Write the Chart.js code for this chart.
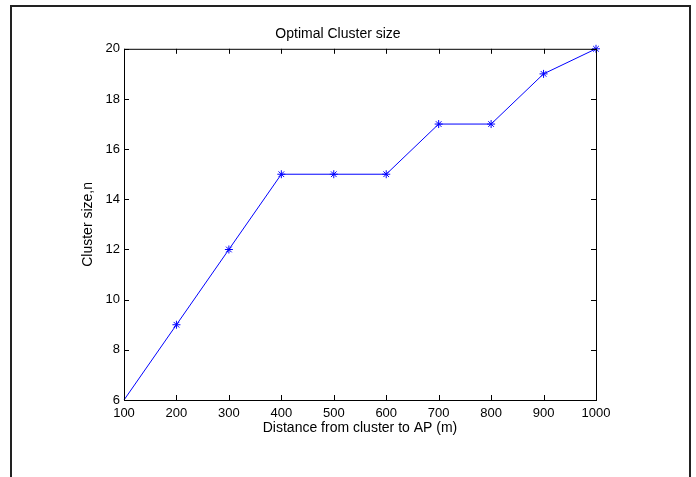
<!DOCTYPE html>
<html>
<head>
<meta charset="utf-8">
<script src="https://cdn.jsdelivr.net/npm/chart.js@4.4.0/dist/chart.umd.min.js"></script>
<style>
  html, body { margin: 0; padding: 0; background: #fff; }
  #wrap { position: relative; width: 696px; height: 477px; overflow: hidden; }
  #frame {
    position: absolute; left: 10px; top: 5px; width: 677px; height: 480px;
    border: 2px solid #222; border-bottom: none;
  }
  canvas { position: absolute; left: 0; top: 0; }
</style>
</head>
<body>
<div id="wrap">
  <div id="frame"></div>
  <canvas id="chart" width="696" height="477"></canvas>
</div>
<script>
// data
const distances = [100, 200, 300, 400, 500, 600, 700, 800, 900, 1000];
const clusterSize = [6, 9, 12, 15, 15, 15, 17, 17, 19, 20];
const xTicks = [100, 200, 300, 400, 500, 600, 700, 800, 900, 1000];
const yTicks = [6, 8, 10, 12, 14, 16, 18, 20];

const FONT = 'Liberation Sans, Arial, Helvetica, sans-serif';

// matlab style box with ticks pointing inward
const boxPlugin = {
  id: 'box',
  afterDraw(chart) {
    const { ctx, chartArea: a, scales } = chart;
    const len = 5;
    ctx.save();
    ctx.strokeStyle = '#000';
    ctx.lineWidth = 1;
    ctx.strokeRect(a.left + 0.5, a.top + 0.5, a.right - a.left, a.bottom - a.top);
    ctx.beginPath();
    xTicks.forEach(v => {
      const x = Math.round(scales.x.getPixelForValue(v)) + 0.5;
      ctx.moveTo(x, a.bottom); ctx.lineTo(x, a.bottom - len);
      ctx.moveTo(x, a.top); ctx.lineTo(x, a.top + len);
    });
    yTicks.forEach(v => {
      const y = Math.round(scales.y.getPixelForValue(v)) + 0.5;
      ctx.moveTo(a.left, y); ctx.lineTo(a.left + len, y);
      ctx.moveTo(a.right, y); ctx.lineTo(a.right - len, y);
    });
    ctx.stroke();
    ctx.restore();
  }
};

new Chart(document.getElementById('chart'), {
  type: 'line',
  data: {
    labels: distances,
    datasets: [{
      data: distances.map((d, i) => ({ x: d, y: clusterSize[i] })),
      borderColor: '#0000ff',
      backgroundColor: '#0000ff',
      borderWidth: 1,
      pointStyle: 'star',
      pointRadius: distances.map((d, i) => i === 0 ? 0 : 4),
      pointBorderColor: '#0000ff',
      pointBorderWidth: 1,
      tension: 0,
      fill: false,
      clip: false
    }]
  },
  options: {
    responsive: false,
    animation: false,
    layout: { padding: { left: 80, right: 100, top: 0, bottom: 40 } },
    plugins: {
      legend: { display: false },
      tooltip: { enabled: false },
      title: {
        display: true,
        text: 'Optimal Cluster size',
        color: '#000',
        font: { family: FONT, size: 14, weight: 'normal' },
        padding: { top: 26, bottom: 6 }
      }
    },
    scales: {
      x: {
        type: 'linear',
        min: 100,
        max: 1000,
        afterBuildTicks: s => { s.ticks = xTicks.map(v => ({ value: v })); },
        afterFit: s => { s.height = 37; },
        grid: { display: false, drawTicks: false },
        border: { display: false },
        ticks: {
          color: '#000',
          padding: 6,
          maxRotation: 0,
          callback: v => String(v),
          font: { family: FONT, size: 13 }
        },
        title: {
          display: true,
          text: 'Distance from cluster to AP (m)',
          color: '#000',
          padding: 0,
          font: { family: FONT, size: 14 }
        }
      },
      y: {
        min: 6,
        max: 20,
        afterBuildTicks: s => { s.ticks = yTicks.map(v => ({ value: v })); },
        afterFit: s => { s.width = 44; },
        grid: { display: false, drawTicks: false },
        border: { display: false },
        ticks: {
          color: '#000',
          padding: 4,
          callback: v => String(v),
          font: { family: FONT, size: 13 }
        },
        title: {
          display: true,
          text: 'Cluster size,n',
          color: '#000',
          padding: 0,
          font: { family: FONT, size: 14 }
        }
      }
    }
  },
  plugins: [boxPlugin]
});
</script>
</body>
</html>
